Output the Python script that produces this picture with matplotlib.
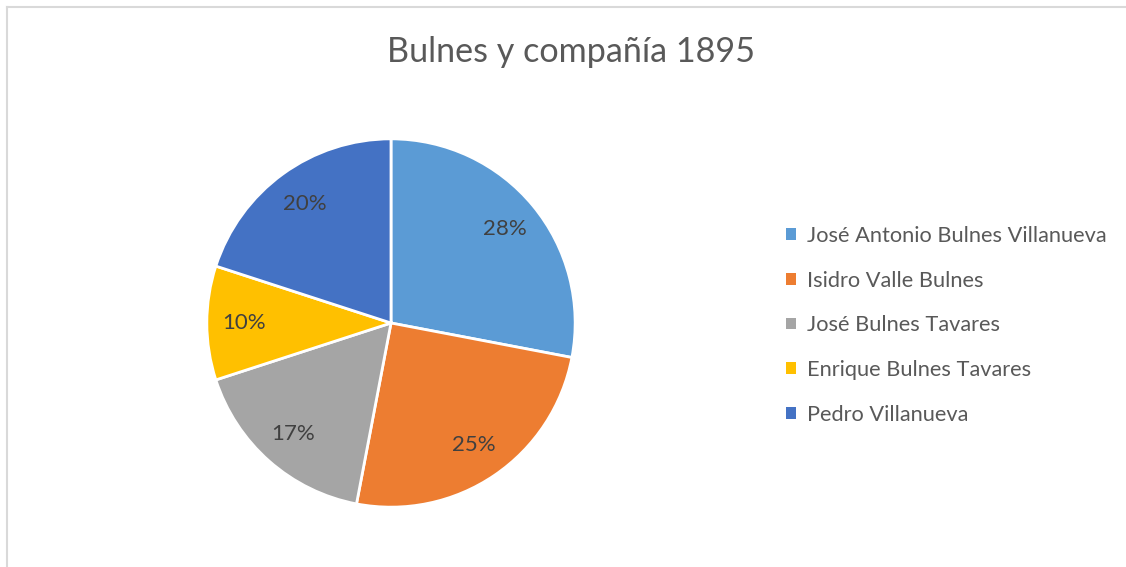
import matplotlib
matplotlib.use("Agg")
import matplotlib.pyplot as plt
from matplotlib.lines import Line2D
from matplotlib.patches import Patch

# data
names = ["José Antonio Bulnes Villanueva", "Isidro Valle Bulnes",
         "José Bulnes Tavares", "Enrique Bulnes Tavares", "Pedro Villanueva"]
shares = [28, 25, 17, 10, 20]
colors = ["#5B9BD5", "#ED7D31", "#A5A5A5", "#FFC000", "#4472C4"]
title = "Bulnes y compañía 1895"

plt.rcParams['font.family'] = ['Lato', 'DejaVu Sans']
txt = "#595959"

W, H = 1126, 567
fig = plt.figure(figsize=(W / 100, H / 100), dpi=100)

# pie axes: centre (391,323), radius 186 px
cx, cy, r = 391, 323, 186
ax = fig.add_axes([(cx - r) / W, (H - cy - r) / H, 2 * r / W, 2 * r / H])
wedges, texts, autotexts = ax.pie(
    shares, colors=colors, startangle=90, counterclock=False,
    autopct="%1.0f%%", pctdistance=0.8, radius=1,
    wedgeprops=dict(edgecolor="white", linewidth=2),
    textprops=dict(color="#404040", fontsize=16))
ax.set_xlim(-1.01, 1.01)
ax.set_ylim(-1.01, 1.01)
ax.set_aspect("equal")
ax.axis("off")

fig.text(571 / W, 1 - 52 / H, title, ha="center", va="center",
         fontsize=24.6, color=txt)

handles = [Patch(facecolor=c, edgecolor="none") for c in colors]
leg = fig.legend(handles, names, loc="upper left",
                 bbox_to_anchor=(786 / W, 1 - 226 / H), frameon=False,
                 fontsize=15.7, labelcolor=txt, handlelength=0.45,
                 handleheight=0.45, handletextpad=0.5, labelspacing=1.13,
                 borderaxespad=0, borderpad=0)

# chart border (top and left visible)
fig.add_artist(Line2D([7 / W, 1125 / W], [1 - 7 / H, 1 - 7 / H],
                      color="#D9D9D9", lw=1.5))
fig.add_artist(Line2D([7 / W, 7 / W], [0, 1 - 7 / H],
                      color="#D9D9D9", lw=1.5))

fig.savefig("out.png", dpi=100)
